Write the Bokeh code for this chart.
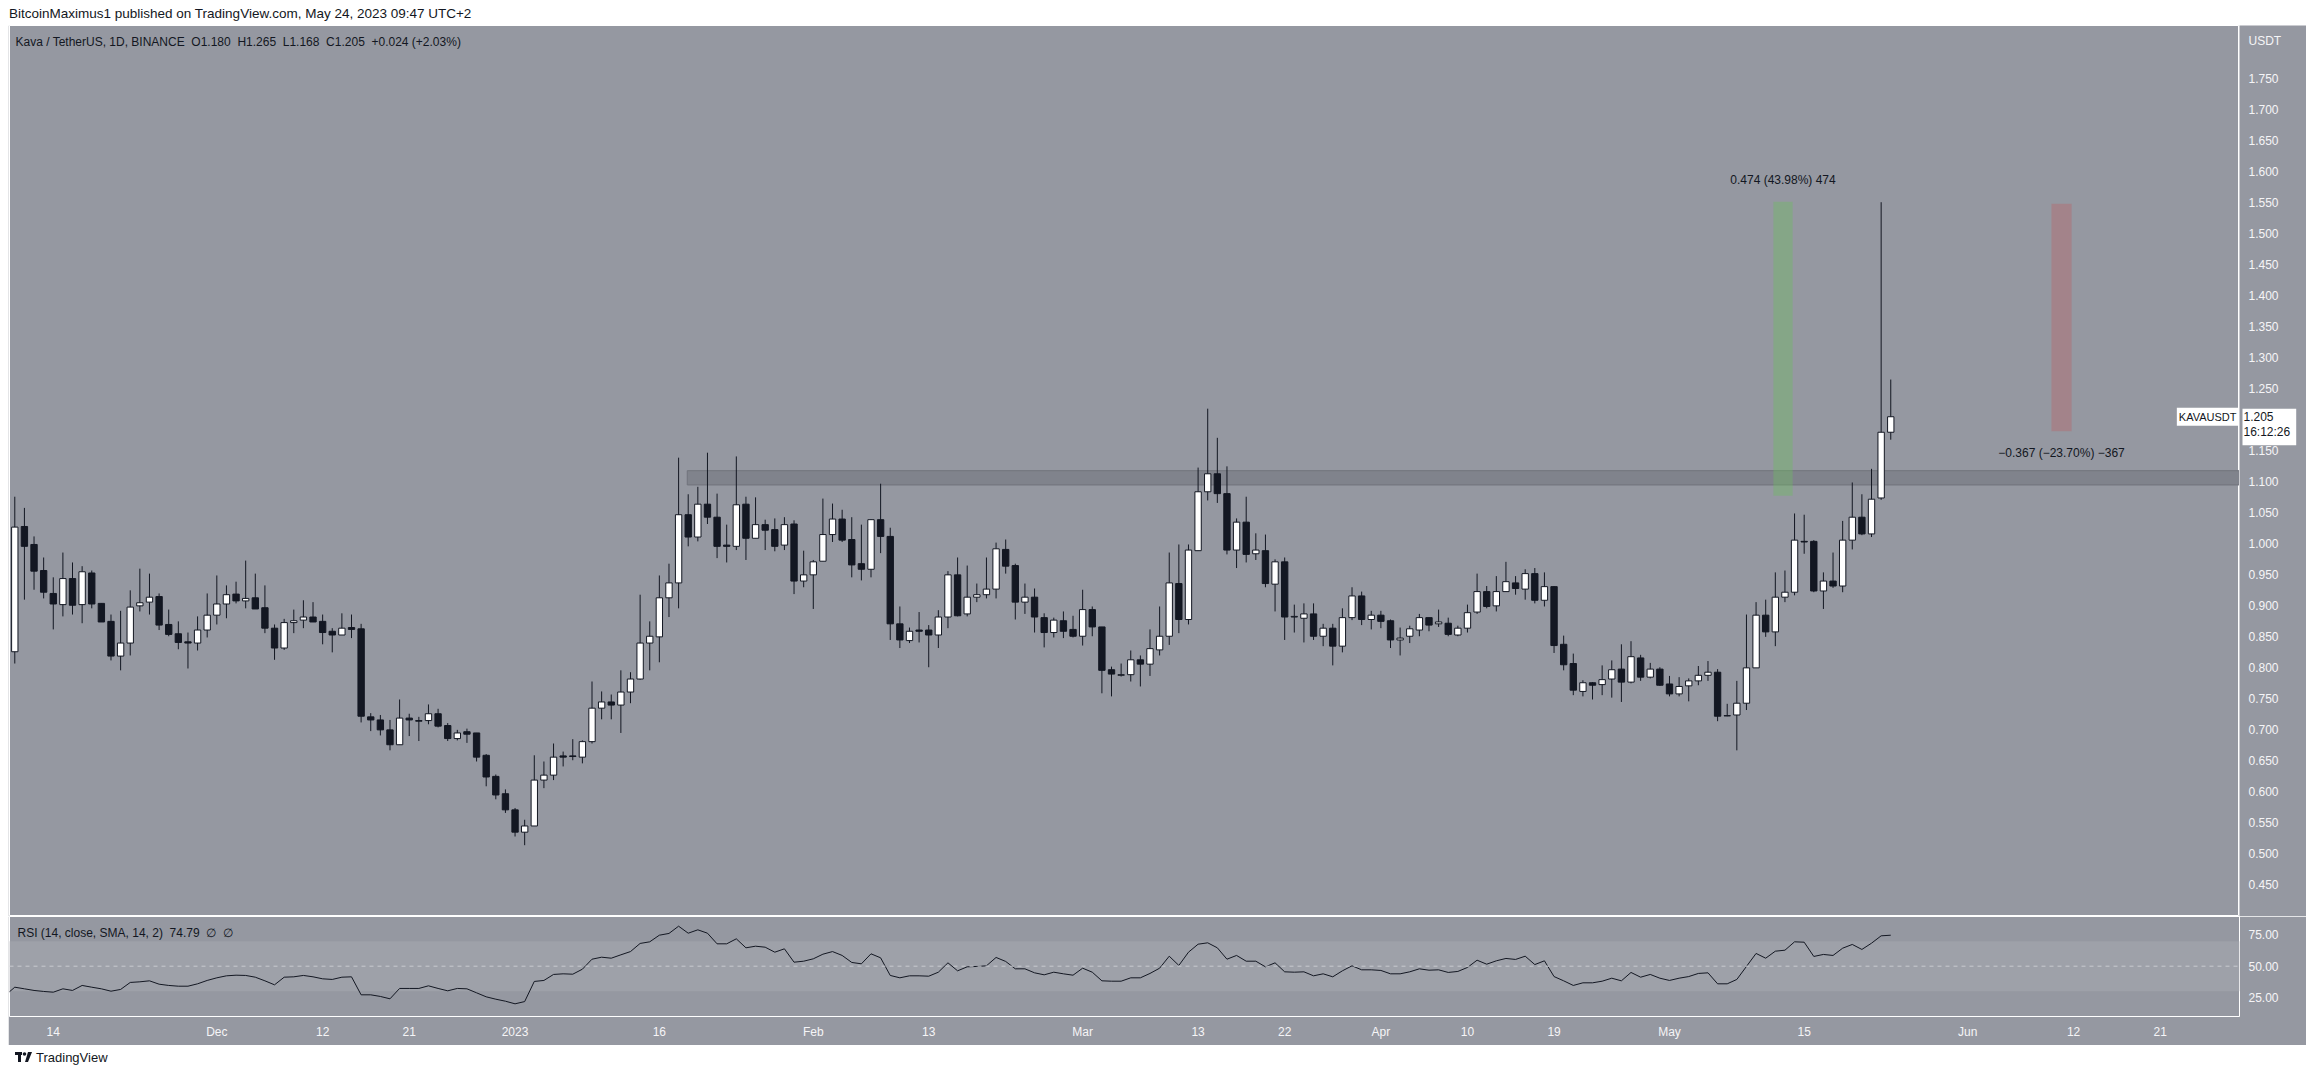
import numpy as np
import pandas as pd
from bokeh.plotting import figure
from bokeh.models import (Range1d, FixedTicker, PrintfTickFormatter, Label, Span,
                          BoxAnnotation, Div, ColumnDataSource)
from bokeh.layouts import column, row
from bokeh.embed import file_html
from bokeh.resources import INLINE
from bokeh.core.properties import value

# ---------------- data ----------------
start_date = "2022-11-10"
opens = [0.826, 1.028, 0.999, 0.957, 0.920, 0.902, 0.944, 0.902, 0.953, 0.904,
         0.875, 0.819, 0.840, 0.900, 0.906, 0.915, 0.870, 0.855, 0.842, 0.840,
         0.861, 0.885, 0.903, 0.919, 0.908, 0.913, 0.897, 0.864, 0.832, 0.873,
         0.877, 0.882, 0.875, 0.859, 0.853, 0.865, 0.863, 0.721, 0.716, 0.700,
         0.676, 0.719, 0.715, 0.715, 0.726, 0.707, 0.686, 0.697, 0.695, 0.659,
         0.625, 0.597, 0.571, 0.535, 0.545, 0.619, 0.627, 0.658, 0.658, 0.656,
         0.681, 0.735, 0.745, 0.740, 0.761, 0.782, 0.840, 0.850, 0.913, 0.937,
         1.047, 1.011, 1.064, 1.043, 0.998, 0.996, 1.064, 1.009, 1.031, 1.023,
         0.998, 1.032, 0.940, 0.950, 0.972, 1.015, 1.040, 1.007, 0.968, 0.959,
         1.039, 1.012, 0.871, 0.844, 0.861, 0.861, 0.853, 0.882, 0.950, 0.887,
         0.914, 0.918, 0.927, 0.991, 0.965, 0.906, 0.914, 0.881, 0.857, 0.876,
         0.862, 0.851, 0.894, 0.866, 0.797, 0.788, 0.789, 0.813, 0.806, 0.829,
         0.851, 0.936, 0.878, 0.989, 1.084, 1.113, 1.081, 0.990, 1.035, 0.984,
         0.989, 0.935, 0.971, 0.882, 0.880, 0.887, 0.851, 0.864, 0.835, 0.881,
         0.916, 0.878, 0.885, 0.876, 0.845, 0.851, 0.861, 0.881, 0.871, 0.872,
         0.853, 0.864, 0.890, 0.923, 0.900, 0.923, 0.937, 0.927, 0.952, 0.909,
         0.931, 0.838, 0.807, 0.762, 0.776, 0.773, 0.782, 0.798, 0.777, 0.816,
         0.785, 0.798, 0.774, 0.758, 0.771, 0.779, 0.788, 0.793, 0.7225, 0.724,
         0.743, 0.800, 0.885, 0.858, 0.914, 0.922, 1.004, 1.004, 0.924, 0.940,
         0.932, 1.006, 1.043, 1.016, 1.074, 1.180]
highs = [1.076, 1.058, 1.012, 0.978, 0.946, 0.986, 0.970, 0.964, 0.957, 0.904,
         0.886, 0.892, 0.925, 0.960, 0.952, 0.920, 0.894, 0.875, 0.857, 0.883,
         0.920, 0.949, 0.933, 0.939, 0.973, 0.952, 0.933, 0.870, 0.879, 0.894,
         0.909, 0.906, 0.886, 0.864, 0.888, 0.886, 0.871, 0.727, 0.724, 0.716,
         0.749, 0.726, 0.721, 0.741, 0.734, 0.711, 0.700, 0.702, 0.695, 0.661,
         0.628, 0.604, 0.574, 0.555, 0.659, 0.649, 0.678, 0.665, 0.685, 0.683,
         0.778, 0.762, 0.757, 0.796, 0.793, 0.918, 0.875, 0.949, 0.968, 1.139,
         1.080, 1.092, 1.147, 1.081, 1.031, 1.141, 1.076, 1.075, 1.039, 1.041,
         1.043, 1.038, 0.989, 0.974, 1.073, 1.065, 1.055, 1.043, 1.031, 1.040,
         1.097, 1.026, 0.899, 0.865, 0.890, 0.869, 0.893, 0.956, 0.978, 0.965,
         0.936, 0.978, 1.002, 1.007, 0.968, 0.936, 0.928, 0.888, 0.881, 0.891,
         0.884, 0.926, 0.899, 0.866, 0.802, 0.807, 0.828, 0.820, 0.862, 0.899,
         0.986, 0.999, 0.999, 1.123, 1.218, 1.171, 1.125, 1.041, 1.076, 1.017,
         1.015, 0.975, 0.978, 0.902, 0.904, 0.904, 0.871, 0.871, 0.896, 0.930,
         0.923, 0.892, 0.892, 0.878, 0.865, 0.868, 0.887, 0.881, 0.894, 0.881,
         0.868, 0.902, 0.952, 0.932, 0.948, 0.971, 0.948, 0.959, 0.961, 0.954,
         0.932, 0.852, 0.823, 0.780, 0.777, 0.804, 0.812, 0.838, 0.843, 0.821,
         0.808, 0.801, 0.787, 0.785, 0.783, 0.803, 0.811, 0.798, 0.742, 0.779,
         0.886, 0.906, 0.910, 0.954, 0.957, 1.049, 1.047, 1.006, 0.954, 0.986,
         1.037, 1.099, 1.080, 1.121, 1.551, 1.265]
lows = [0.807, 0.910, 0.926, 0.912, 0.862, 0.883, 0.886, 0.872, 0.896, 0.874,
        0.812, 0.796, 0.820, 0.891, 0.886, 0.861, 0.851, 0.830, 0.799, 0.828,
        0.849, 0.870, 0.880, 0.904, 0.896, 0.895, 0.856, 0.813, 0.829, 0.856,
        0.864, 0.874, 0.838, 0.825, 0.853, 0.848, 0.712, 0.698, 0.691, 0.667,
        0.676, 0.690, 0.682, 0.709, 0.704, 0.682, 0.683, 0.679, 0.649, 0.609,
        0.588, 0.566, 0.528, 0.514, 0.545, 0.606, 0.619, 0.641, 0.651, 0.646,
        0.678, 0.717, 0.717, 0.695, 0.743, 0.781, 0.796, 0.809, 0.882, 0.896,
        0.996, 1.004, 1.032, 0.977, 0.970, 0.990, 0.974, 1.009, 0.990, 0.988,
        0.990, 0.919, 0.930, 0.895, 0.972, 1.003, 1.003, 0.946, 0.941, 0.946,
        0.985, 0.845, 0.832, 0.840, 0.841, 0.801, 0.832, 0.864, 0.883, 0.883,
        0.906, 0.912, 0.912, 0.952, 0.878, 0.887, 0.857, 0.833, 0.849, 0.848,
        0.849, 0.836, 0.851, 0.759, 0.754, 0.786, 0.778, 0.770, 0.787, 0.820,
        0.837, 0.856, 0.870, 0.989, 1.070, 1.066, 0.983, 0.961, 0.970, 0.974,
        0.930, 0.891, 0.845, 0.857, 0.841, 0.845, 0.835, 0.804, 0.825, 0.877,
        0.869, 0.862, 0.864, 0.832, 0.820, 0.840, 0.851, 0.859, 0.866, 0.851,
        0.851, 0.857, 0.887, 0.896, 0.891, 0.923, 0.918, 0.910, 0.904, 0.899,
        0.824, 0.796, 0.756, 0.754, 0.749, 0.756, 0.752, 0.745, 0.775, 0.779,
        0.783, 0.771, 0.754, 0.754, 0.746, 0.772, 0.779, 0.714, 0.722, 0.667,
        0.732, 0.800, 0.850, 0.835, 0.906, 0.917, 0.984, 0.922, 0.895, 0.929,
        0.922, 0.991, 1.014, 1.011, 1.071, 1.168]
closes = [1.027, 0.996, 0.956, 0.922, 0.903, 0.944, 0.901, 0.955, 0.903, 0.874,
          0.819, 0.840, 0.898, 0.905, 0.914, 0.869, 0.854, 0.841, 0.840, 0.861,
          0.885, 0.903, 0.918, 0.908, 0.912, 0.895, 0.864, 0.832, 0.873, 0.876,
          0.882, 0.874, 0.857, 0.853, 0.864, 0.862, 0.722, 0.716, 0.700, 0.676,
          0.719, 0.716, 0.714, 0.726, 0.706, 0.686, 0.695, 0.693, 0.656, 0.624,
          0.595, 0.571, 0.535, 0.545, 0.619, 0.627, 0.656, 0.656, 0.657, 0.681,
          0.735, 0.745, 0.740, 0.761, 0.782, 0.840, 0.851, 0.913, 0.937, 1.047,
          1.011, 1.064, 1.043, 0.996, 0.996, 1.063, 1.009, 1.031, 1.022, 0.996,
          1.031, 0.940, 0.950, 0.971, 1.015, 1.040, 1.006, 0.966, 0.959, 1.039,
          1.012, 0.871, 0.845, 0.859, 0.859, 0.853, 0.882, 0.950, 0.884, 0.914,
          0.918, 0.927, 0.992, 0.964, 0.906, 0.914, 0.882, 0.857, 0.877, 0.859,
          0.851, 0.894, 0.866, 0.796, 0.790, 0.789, 0.813, 0.806, 0.831, 0.851,
          0.937, 0.878, 0.990, 1.084, 1.113, 1.081, 0.990, 1.035, 0.983, 0.990,
          0.936, 0.971, 0.882, 0.883, 0.887, 0.851, 0.864, 0.835, 0.881, 0.916,
          0.878, 0.885, 0.875, 0.845, 0.848, 0.863, 0.881, 0.869, 0.874, 0.854,
          0.864, 0.889, 0.923, 0.899, 0.923, 0.939, 0.928, 0.952, 0.909, 0.931,
          0.836, 0.805, 0.764, 0.776, 0.772, 0.781, 0.797, 0.777, 0.818, 0.785,
          0.798, 0.772, 0.758, 0.770, 0.779, 0.788, 0.793, 0.722, 0.723, 0.743,
          0.800, 0.885, 0.858, 0.914, 0.922, 1.006, 1.003, 0.924, 0.940, 0.932,
          1.006, 1.043, 1.016, 1.072, 1.180, 1.205]

rsi_start_date = "2022-11-09"
rsi_values = [26.6, 33.2, 31.9, 30.6, 29.8, 29.2, 31.9, 30.6, 34.6, 33.2,
              31.9, 30.0, 31.4, 37.0, 37.5, 38.3, 35.6, 34.6, 34.0, 34.0,
              35.9, 38.6, 40.7, 42.3, 42.8, 42.6, 41.2, 38.3, 35.1, 41.2,
              41.5, 42.6, 41.5, 39.9, 39.4, 41.2, 41.5, 27.1, 27.1, 25.8,
              23.9, 32.2, 32.2, 32.2, 34.3, 32.2, 30.3, 32.2, 31.9, 28.7,
              25.5, 23.6, 22.0, 19.9, 21.7, 37.8, 38.6, 43.4, 43.9, 43.6,
              47.6, 55.6, 57.2, 56.4, 59.1, 61.7, 68.2, 69.5, 74.8, 76.2,
              82.0, 76.4, 79.1, 76.4, 67.9, 67.9, 71.9, 64.7, 66.0, 65.2,
              61.2, 63.9, 53.2, 54.0, 55.9, 59.6, 61.7, 58.6, 53.0, 51.9,
              59.9, 56.7, 42.6, 40.7, 42.3, 42.3, 42.0, 45.2, 52.7, 46.3,
              49.5, 49.8, 50.3, 57.0, 53.8, 47.9, 47.9, 44.7, 43.1, 45.2,
              43.9, 42.8, 48.4, 45.2, 38.3, 38.0, 38.0, 40.7, 40.7, 44.2,
              48.4, 58.0, 50.6, 61.2, 67.6, 68.7, 64.7, 55.6, 58.6, 54.0,
              54.0, 49.5, 52.7, 45.5, 45.2, 45.5, 42.3, 43.9, 41.5, 46.3,
              50.3, 47.1, 47.1, 46.6, 43.9, 43.9, 45.5, 47.9, 46.8, 47.1,
              45.0, 45.8, 49.0, 54.8, 51.6, 54.3, 56.2, 55.4, 58.0, 51.3,
              54.3, 41.7, 38.3, 34.6, 36.7, 36.7, 38.0, 40.4, 38.3, 45.0,
              41.2, 43.4, 40.4, 38.6, 40.4, 41.7, 44.2, 44.7, 35.9, 35.9,
              39.4, 49.8, 60.2, 56.4, 62.0, 62.8, 69.5, 69.2, 57.8, 59.4,
              58.6, 64.4, 67.4, 63.4, 68.4, 74.3, 74.79]

price_ticks = [0.45, 0.50, 0.55, 0.60, 0.65, 0.70, 0.75, 0.80, 0.85, 0.90, 0.95,
               1.00, 1.05, 1.10, 1.15, 1.25, 1.30, 1.35, 1.40, 1.45, 1.50,
               1.55, 1.60, 1.65, 1.70, 1.75]
price_tick_labels = ["0.450", "0.500", "0.550", "0.600", "0.650", "0.700", "0.750",
                     "0.800", "0.850", "0.900", "0.950", "1.000", "1.050", "1.100",
                     "1.150", "1.250", "1.300", "1.350", "1.400", "1.450", "1.500",
                     "1.550", "1.600", "1.650", "1.700", "1.750"]
rsi_ticks = [25, 50, 75]
rsi_band = [30, 70]
time_tick_dates = ["2022-11-14", "2022-12-01", "2022-12-12", "2022-12-21", "2023-01-01",
                   "2023-01-16", "2023-02-01", "2023-02-13", "2023-03-01", "2023-03-13",
                   "2023-03-22", "2023-04-01", "2023-04-10", "2023-04-19", "2023-05-01",
                   "2023-05-15", "2023-06-01", "2023-06-12", "2023-06-21"]
time_tick_labels = ["14", "Dec", "12", "21", "2023", "16", "Feb", "13", "Mar", "13",
                    "22", "Apr", "10", "19", "May", "15", "Jun", "12", "21"]

# resistance zone and measure tools
zone_left_bar = 69.9
zone_prices = [1.095, 1.118]
measure_up = dict(bars=[182.8, 184.8], prices=[1.0777, 1.5517], text="0.474 (43.98%) 474")
measure_down = dict(bars=[211.7, 213.8], prices=[1.1815, 1.5485],
                    text="\u22120.367 (\u221223.70%) \u2212367")

NB2 = "\u00a0\u00a0"
header_text = "BitcoinMaximus1 published on TradingView.com, May 24, 2023 09:47 UTC+2"
legend_text = NB2.join(["Kava / TetherUS, 1D, BINANCE", "O1.180", "H1.265", "L1.168",
                        "C1.205", "+0.024 (+2.03%)"])
rsi_legend_text = NB2.join(["RSI (14, close, SMA, 14, 2)", "74.79", "\u2205", "\u2205"])
last_price_text = "1.205\n16:12:26"
symbol_text = "KAVAUSDT"
currency_text = "USDT"

# ---------------- style ----------------
BG = "#9598a1"
DARK = "#131722"
AXIS_TXT = "#f5f5f7"
FONT = "Liberation Sans"
W = 2298
AXIS_W = 67
X_START, X_END = -0.55, 231.25
Y0, Y1 = 0.399, 1.836

t0 = pd.Timestamp(start_date)
x = np.arange(len(opens))
o = np.array(opens)
c = np.array(closes)
up = c >= o
src = ColumnDataSource(dict(
    x=x, top=np.maximum(o, c), bottom=np.minimum(o, c), high=highs, low=lows,
    fill=np.where(up, "#ffffff", DARK)))

x_range = Range1d(X_START, X_END)
price_range = Range1d(Y0, Y1)


def style_axis(ax, size="12px"):
    ax.major_tick_line_color = None
    ax.minor_tick_line_color = None
    ax.major_tick_out = 0
    ax.major_tick_in = 0
    ax.axis_line_color = None
    ax.major_label_text_color = AXIS_TXT
    ax.major_label_text_font = FONT
    ax.major_label_text_font_size = size


# ---------------- price pane ----------------
p = figure(width=W - AXIS_W, height=891, x_range=x_range, y_range=price_range,
           x_axis_location=None, y_axis_location=None,
           min_border_left=1, min_border_right=0, min_border_top=0, min_border_bottom=0,
           toolbar_location=None, output_backend="svg",
           background_fill_color=BG, border_fill_color=BG)
p.outline_line_color = "#ffffff"
p.grid.visible = False

# resistance zone
p.quad(left=[zone_left_bar], right=[X_END + 5], bottom=[zone_prices[0]], top=[zone_prices[1]],
       fill_color="#80838c", fill_alpha=1, line_color="#70737c", line_width=1)
# measure rectangles
p.quad(left=[measure_up["bars"][0]], right=[measure_up["bars"][1]],
       bottom=[measure_up["prices"][0]], top=[measure_up["prices"][1]],
       fill_color="#6fbb62", fill_alpha=0.4, line_color=None)
p.quad(left=[measure_down["bars"][0]], right=[measure_down["bars"][1]],
       bottom=[measure_down["prices"][0]], top=[measure_down["prices"][1]],
       fill_color="#b86468", fill_alpha=0.4, line_color=None)

# candles
p.segment(x0="x", y0="high", x1="x", y1="low", source=src, line_color=DARK, line_width=1)
p.vbar(x="x", width=0.66, top="top", bottom="bottom", source=src,
       fill_color="fill", line_color=DARK, line_width=1)

# labels
p.add_layout(Label(x=X_START, y=Y1, x_offset=6, y_offset=-16, text=legend_text,
                   text_font=FONT, text_font_size="12px", text_color=DARK,
                   text_baseline="middle"))
p.add_layout(Label(x=sum(measure_up["bars"]) / 2, y=measure_up["prices"][1], y_offset=22,
                   text=measure_up["text"], text_align="center", text_baseline="middle",
                   text_font=FONT, text_font_size="12px", text_color=DARK))
p.add_layout(Label(x=sum(measure_down["bars"]) / 2, y=measure_down["prices"][0], y_offset=-22,
                   text=measure_down["text"], text_align="center", text_baseline="middle",
                   text_font=FONT, text_font_size="12px", text_color=DARK))
p.add_layout(Label(x=X_END, y=closes[-1], x_offset=-1, text=symbol_text,
                   text_align="right", text_baseline="middle",
                   text_font=FONT, text_font_size="11px", text_color=DARK,
                   background_fill_color="#ffffff", padding=(2, 3)))

# ---------------- price scale (right of price pane) ----------------
pa = figure(width=AXIS_W, height=891, x_range=Range1d(0, 1), y_range=price_range,
            x_axis_location=None, y_axis_location=None, min_border=0,
            toolbar_location=None, output_backend="svg",
            background_fill_color=BG, border_fill_color=BG)
pa.outline_line_color = None
pa.grid.visible = False
pa.text(x=[0] * len(price_ticks), y=price_ticks, text=price_tick_labels, x_offset=9,
        text_baseline="middle", text_align="left", text_font=value(FONT),
        text_font_size="12px", text_color=AXIS_TXT)
pa.add_layout(Label(x=0, y=Y1, x_offset=9, y_offset=-15, text=currency_text,
                    text_align="left", text_baseline="middle",
                    text_font=FONT, text_font_size="12px", text_color=AXIS_TXT))
pa.add_layout(Label(x=0, y=closes[-1], x_offset=3, y_offset=8, text=last_price_text,
                    text_align="left", text_baseline="top", text_line_height=1.1,
                    text_font=FONT, text_font_size="12px", text_color=DARK,
                    background_fill_color="#ffffff", padding=(1, 6, 1, 6)))

# ---------------- RSI pane ----------------
q = figure(width=W, height=129, x_range=x_range, y_range=Range1d(9.76, 89.76),
           y_axis_location="right",
           min_border_left=1, min_border_right=AXIS_W, min_border_top=0, min_border_bottom=29,
           toolbar_location=None, output_backend="svg",
           background_fill_color=BG, border_fill_color=BG)
q.outline_line_color = "#ffffff"
q.grid.visible = False
q.add_layout(BoxAnnotation(bottom=rsi_band[0], top=rsi_band[1], fill_color="#9ea1a9",
                           fill_alpha=1, line_color=None, level="underlay"))
q.add_layout(Span(location=50, dimension="width", line_color="#c8cad0",
                  line_dash="4 4", line_width=1))
rsi_x = np.arange(len(rsi_values)) + (pd.Timestamp(rsi_start_date) - t0).days
q.line(rsi_x, rsi_values, line_color=DARK, line_width=1)
q.yaxis.ticker = FixedTicker(ticks=rsi_ticks)
q.yaxis.formatter = PrintfTickFormatter(format="%.2f")
style_axis(q.yaxis[0])
q.yaxis.major_label_standoff = 9

tick_pos = [(pd.Timestamp(d) - t0).days for d in time_tick_dates]
q.xaxis.ticker = FixedTicker(ticks=tick_pos)
q.xaxis.major_label_overrides = {tp: lab for tp, lab in zip(tick_pos, time_tick_labels)}
style_axis(q.xaxis[0])
q.xaxis.major_label_standoff = 8
q.add_layout(Label(x=X_START, y=89.76, x_offset=8, y_offset=-16, text=rsi_legend_text,
                   text_font=FONT, text_font_size="12px", text_color=DARK,
                   text_baseline="middle"))

# ---------------- header / footer ----------------
header = Div(text=header_text, width=W, height=17, margin=(0, 0, 0, 0),
             styles={"font-family": FONT, "font-size": "13.5px", "color": DARK,
                     "line-height": "12px", "white-space": "nowrap", "padding-left": "1px"})
logo = ("<svg width='18' height='12' viewBox='0 0 18 12' style='vertical-align:-1px;margin-right:3px'>"
        "<rect x='0' y='1' width='7' height='3' fill='#131722'/>"
        "<rect x='3' y='1' width='3' height='10' fill='#131722'/>"
        "<circle cx='9.5' cy='3' r='1.8' fill='#131722'/>"
        "<polygon points='13,1 17,1 13,11 10,11' fill='#131722'/></svg>")
footer = Div(text=logo + "<span>TradingView</span>", width=W, height=26, margin=(0, 0, 0, 0),
             styles={"font-family": FONT, "font-size": "13px", "color": DARK,
                     "line-height": "26px", "white-space": "nowrap", "padding-left": "7px"})

layout = column(header, row(p, pa, spacing=0), q, footer, spacing=0, margin=(8, 8, 0, 8))
open("out.html", "w").write(file_html(layout, INLINE))
